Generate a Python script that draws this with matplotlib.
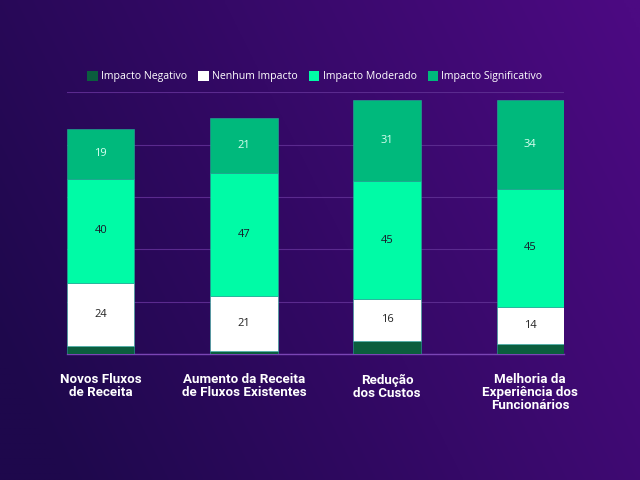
import matplotlib
matplotlib.use("Agg")
import matplotlib.pyplot as plt
import numpy as np
from matplotlib.patches import Patch

categories = ["Novos Fluxos\nde Receita", "Aumento da Receita\nde Fluxos Existentes",
              "Redução\ndos Custos", "Melhoria da\nExperiência dos\nFuncionários"]
series_names = ["Impacto Negativo", "Nenhum Impacto", "Impacto Moderado", "Impacto Significativo"]
negativo = [3, 1, 5, 4]
nenhum = [24, 21, 16, 14]
moderado = [40, 47, 45, 45]
significativo = [19, 21, 31, 34]

colors = ["#0b5e3e", "#ffffff", "#00fba6", "#00b97c"]
label_colors = [None, "#222222", "#1a1a2a", "#d8fff0"]

fig = plt.figure(figsize=(6.4, 4.8), dpi=100)

# background gradient
bg = fig.add_axes([0, 0, 1, 1])
xx, yy = np.meshgrid(np.linspace(0, 1, 256), np.linspace(0, 1, 256))
t = np.clip(0.8 * xx + 0.3 * (1 - yy) - 0.08, 0, 1)
c0 = np.array([0x1e, 0x08, 0x4c]) / 255
c1 = np.array([0x4c, 0x0a, 0x82]) / 255
img = c0[None, None, :] * (1 - t[..., None]) + c1[None, None, :] * t[..., None]
bg.imshow(img, aspect="auto", extent=[0, 1, 0, 1], origin="upper")
bg.axis("off")

ax = fig.add_axes([0.105, 0.2625, 0.776, 0.5455])
ax.set_facecolor("none")
x = np.arange(len(categories))
width = 0.47
data = [negativo, nenhum, moderado, significativo]
bottom = np.zeros(len(categories))
for i, (vals, col) in enumerate(zip(data, colors)):
    vals = np.array(vals)
    ax.bar(x, vals, width, bottom=bottom, color=col, edgecolor="#2aa89a",
           linewidth=0.4, zorder=3, label=series_names[i])
    if label_colors[i] is not None:
        for xi, v, b in zip(x, vals, bottom):
            ax.text(xi, b + v / 2, str(v), ha="center", va="center", fontsize=8,
                    color=label_colors[i], family="Open Sans", zorder=4)
    bottom += vals

ax.set_xlim(-width / 2, len(categories) - 1 + width / 2)
ax.set_ylim(0, 100)
ax.set_yticks([0, 20, 40, 60, 80, 100])
ax.set_yticklabels([])
ax.tick_params(axis="y", length=0)
ax.grid(axis="y", color="#5a2a8e", linewidth=0.8, zorder=0)
ax.set_xticks(x)
ax.set_xticklabels(categories, fontsize=9.6, fontweight="bold", color="white",
                   family="Roboto", linespacing=1.0)
ax.tick_params(axis="x", length=0, pad=14)
for s in ["top", "right", "left"]:
    ax.spines[s].set_visible(False)
ax.spines["bottom"].set_color("#7a45b5")
ax.spines["bottom"].set_linewidth(1.0)

handles = [Patch(facecolor=c, edgecolor="none") for c in colors]
fig.legend(handles, series_names, loc="center", bbox_to_anchor=(0.492, 0.84), ncol=4,
           frameon=False, labelcolor="white", handlelength=1.0,
           handleheight=1.0, handletextpad=0.3, columnspacing=1.05,
           prop={"family": "Open Sans", "size": 7.6})

fig.savefig("out.png", dpi=100)
